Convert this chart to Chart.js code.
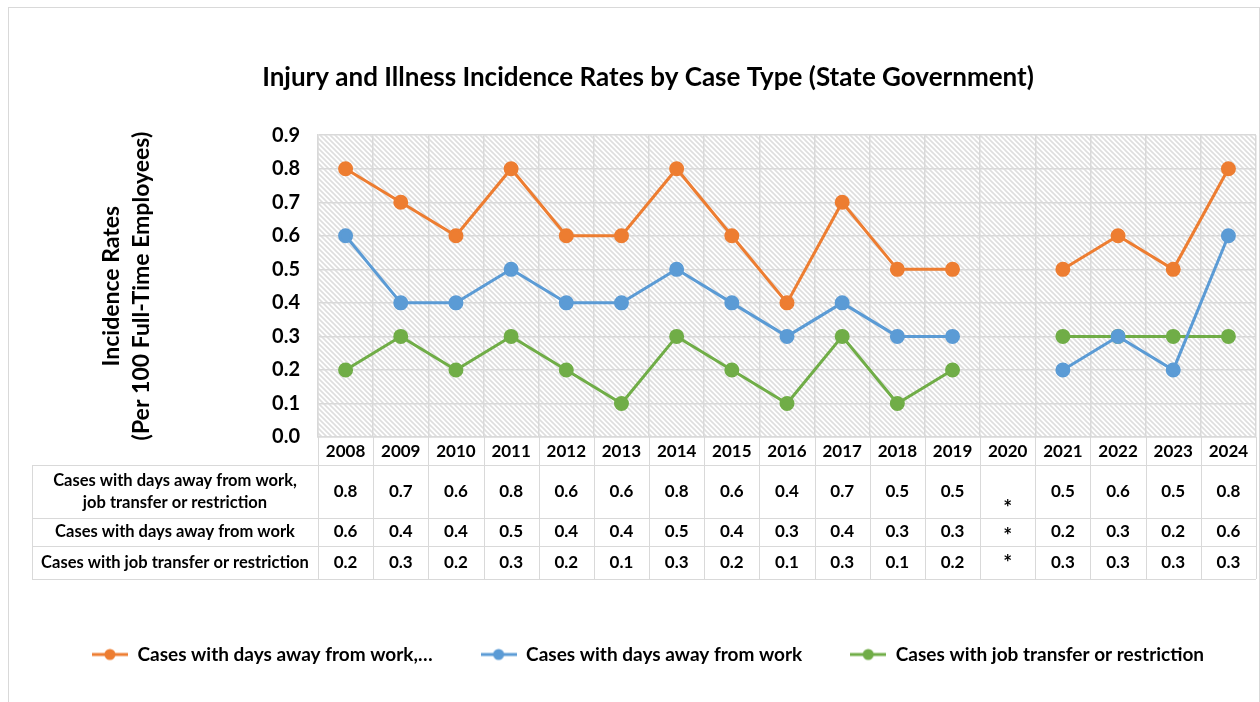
<!DOCTYPE html>
<html>
<head>
<meta charset="utf-8">
<title>Injury and Illness Incidence Rates by Case Type (State Government)</title>
<script src="https://cdn.jsdelivr.net/npm/chart.js@4.4.1/dist/chart.umd.min.js"></script>
<style>
  html, body { margin: 0; padding: 0; background: #fff; }
  #wrap { position: relative; width: 1260px; height: 702px; }
</style>
</head>
<body>
<div id="wrap"><canvas id="chart" width="1260" height="702"></canvas></div>
<script>
// ── DATA ──────────────────────────────────────────────────────────────────
var years = ['2008', '2009', '2010', '2011', '2012', '2013', '2014', '2015', '2016',
             '2017', '2018', '2019', '2020', '2021', '2022', '2023', '2024'];

// 2020 has no published value (shown as * in the table)
var totalCases    = [0.8, 0.7, 0.6, 0.8, 0.6, 0.6, 0.8, 0.6, 0.4, 0.7, 0.5, 0.5, null, 0.5, 0.6, 0.5, 0.8];
var daysAwayCases = [0.6, 0.4, 0.4, 0.5, 0.4, 0.4, 0.5, 0.4, 0.3, 0.4, 0.3, 0.3, null, 0.2, 0.3, 0.2, 0.6];
var transferCases = [0.2, 0.3, 0.2, 0.3, 0.2, 0.1, 0.3, 0.2, 0.1, 0.3, 0.1, 0.2, null, 0.3, 0.3, 0.3, 0.3];

var yTicks = [0.0, 0.1, 0.2, 0.3, 0.4, 0.5, 0.6, 0.7, 0.8, 0.9];

var seriesNames  = ['Cases with days away from work, job transfer or restriction',
                    'Cases with days away from work',
                    'Cases with job transfer or restriction'];
var legendNames  = ['Cases with days away from work,\u2026',
                    'Cases with days away from work',
                    'Cases with job transfer or restriction'];
var tableLabels  = [['Cases with days away from work,', 'job transfer or restriction'],
                    ['Cases with days away from work'],
                    ['Cases with job transfer or restriction']];
var seriesColors = ['#ED7D31', '#5B9BD5', '#70AD47'];

// ── STYLE ─────────────────────────────────────────────────────────────────
var FONT = "Lato, 'Open Sans', sans-serif";
var GRID = '#d9d9d9';

Chart.defaults.font.family = FONT;
Chart.defaults.color = '#000';

// table row edges (pixels) and baseline shift of the "*" marks per row
var TABLE_LEFT = 32;
var ROWS = [465, 518, 546, 579];
var STAR_DY = [23, 11, 7];

function hatchPattern(ctx) {
  var s = 5;
  var c = document.createElement('canvas');
  c.width = s; c.height = s;
  var g = c.getContext('2d');
  g.fillStyle = '#fff';
  g.fillRect(0, 0, s, s);
  g.strokeStyle = '#dedede';
  g.lineWidth = 1.6;
  g.beginPath();
  g.moveTo(-1, -1); g.lineTo(s + 1, s + 1);
  g.moveTo(-1, s - 1); g.lineTo(1, s + 1);
  g.moveTo(s - 1, -1); g.lineTo(s + 1, 1);
  g.stroke();
  return ctx.createPattern(c, 'repeat');
}

function legendMarker(color) {
  var c = document.createElement('canvas');
  c.width = 36; c.height = 14;
  var g = c.getContext('2d');
  g.strokeStyle = color;
  g.lineWidth = 3;
  g.beginPath();
  g.moveTo(0, 7); g.lineTo(36, 7);
  g.stroke();
  g.fillStyle = color;
  g.beginPath();
  g.arc(18, 7, 5.5, 0, Math.PI * 2);
  g.fill();
  return c;
}

// ── PLUGINS ───────────────────────────────────────────────────────────────
var backdrop = {
  id: 'backdrop',
  beforeDraw: function (chart) {
    var ctx = chart.ctx, a = chart.chartArea;
    ctx.save();
    ctx.strokeStyle = GRID;
    ctx.lineWidth = 1;
    ctx.strokeRect(8.5, 7.5, chart.width - 9, chart.height - 6);
    ctx.fillStyle = hatchPattern(ctx);
    ctx.fillRect(a.left, a.top, a.right - a.left, a.bottom - a.top);
    ctx.restore();
  }
};

var dataTable = {
  id: 'dataTable',
  afterDraw: function (chart) {
    var ctx = chart.ctx, a = chart.chartArea, x = chart.scales.x;
    var half = (x.getPixelForValue(1) - x.getPixelForValue(0)) / 2;
    var series = [totalCases, daysAwayCases, transferCases];

    ctx.save();
    ctx.strokeStyle = GRID;
    ctx.lineWidth = 1;
    ctx.beginPath();
    ROWS.forEach(function (y) {
      ctx.moveTo(TABLE_LEFT, y + 0.5); ctx.lineTo(a.right, y + 0.5);
    });
    ctx.moveTo(TABLE_LEFT + 0.5, ROWS[0]); ctx.lineTo(TABLE_LEFT + 0.5, ROWS[3]);
    for (var i = 0; i <= years.length; i++) {
      var gx = Math.round(x.getPixelForValue(0) - half + i * 2 * half) + 0.5;
      ctx.moveTo(gx, a.bottom); ctx.lineTo(gx, ROWS[3]);
    }
    ctx.stroke();

    ctx.fillStyle = '#000';
    ctx.textAlign = 'center';
    var labelX = (TABLE_LEFT + a.left) / 2;
    for (var r = 0; r < 3; r++) {
      var mid = (ROWS[r] + ROWS[r + 1]) / 2;
      var lines = tableLabels[r];
      ctx.textBaseline = 'middle';
      ctx.font = 'bold 16.5px ' + FONT;
      lines.forEach(function (t, k) {
        ctx.fillText(t, labelX, mid + (k - (lines.length - 1) / 2) * 22);
      });
      series[r].forEach(function (v, c) {
        var cx = x.getPixelForValue(c);
        if (v === null) {
          ctx.textBaseline = 'alphabetic';
          ctx.font = 'bold 21px ' + FONT;
          ctx.fillText('*', cx, mid + STAR_DY[r]);
        } else {
          ctx.textBaseline = 'middle';
          ctx.font = 'bold 17px ' + FONT;
          ctx.fillText(v.toFixed(1), cx, mid);
        }
      });
    }
    ctx.restore();
  }
};

// ── CHART ─────────────────────────────────────────────────────────────────
function makeDataset(i, values) {
  return {
    label: seriesNames[i],
    data: values,
    borderColor: seriesColors[i],
    backgroundColor: seriesColors[i],
    borderWidth: 3,
    pointRadius: 6,
    pointHoverRadius: 6,
    tension: 0,
    spanGaps: false
  };
}

new Chart(document.getElementById('chart'), {
  type: 'line',
  data: {
    labels: years,
    datasets: [
      makeDataset(0, totalCases),
      makeDataset(1, daysAwayCases),
      makeDataset(2, transferCases)
    ]
  },
  options: {
    responsive: false,
    animation: false,
    events: [],
    layout: { autoPadding: false, padding: { top: 0, left: 40, right: 4, bottom: 28 } },
    plugins: {
      title: {
        display: true,
        text: 'Injury and Illness Incidence Rates by Case Type (State Government)',
        color: '#000',
        font: { size: 26, weight: 'bold' },
        padding: { top: 62, bottom: 42 }
      },
      legend: {
        position: 'bottom',
        labels: {
          usePointStyle: true,
          pointStyleWidth: 36,
          padding: 48,
          color: '#000',
          font: { size: 19, weight: 'bold' },
          generateLabels: function (chart) {
            return chart.data.datasets.map(function (ds, i) {
              return {
                text: legendNames[i],
                fillStyle: seriesColors[i],
                strokeStyle: seriesColors[i],
                pointStyle: legendMarker(seriesColors[i]),
                datasetIndex: i,
                hidden: false
              };
            });
          }
        }
      },
      tooltip: { enabled: false }
    },
    scales: {
      x: {
        offset: true,
        grid: { offset: true, color: GRID, lineWidth: 1.5, drawTicks: false },
        border: { color: GRID, width: 1.5 },
        ticks: { font: { size: 17, weight: 'bold' }, padding: 4, color: '#000', maxRotation: 0 },
        afterFit: function (scale) {
          scale.height = 160;
          scale.paddingLeft = 0;
          scale.paddingRight = 0;
        }
      },
      y: {
        min: yTicks[0],
        max: yTicks[yTicks.length - 1],
        afterBuildTicks: function (scale) {
          scale.ticks = yTicks.map(function (v) { return { value: v }; });
        },
        grid: { color: GRID, lineWidth: 1.5, drawTicks: false },
        border: { color: GRID, width: 1.5 },
        ticks: {
          font: { size: 20, weight: 'bold' },
          padding: 18,
          color: '#000',
          callback: function (v) { return Number(v).toFixed(1); }
        },
        title: {
          display: true,
          text: ['Incidence Rates', '(Per 100 Full-Time Employees)'],
          color: '#000',
          font: { size: 23, weight: 'bold', lineHeight: 1.3 },
          padding: { top: 57, bottom: 0 }
        },
        afterFit: function (scale) { scale.width = 278; }
      }
    }
  },
  plugins: [backdrop, dataTable]
});
</script>
</body>
</html>
